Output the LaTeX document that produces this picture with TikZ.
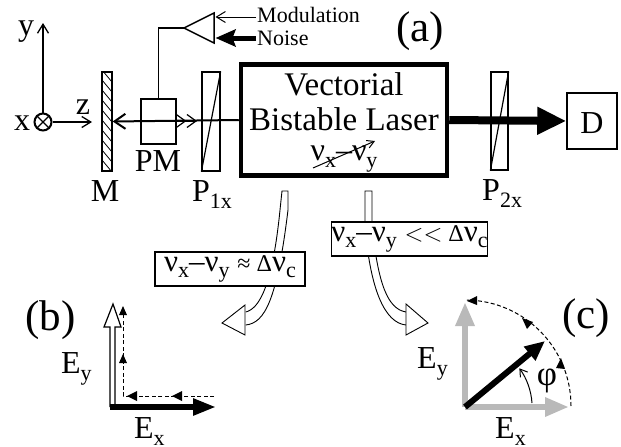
\documentclass[tikz,border=0pt]{standalone}
\usepackage{fontspec}
\setmainfont{Liberation Serif}
\usetikzlibrary{arrows.meta}
\definecolor{vecgrey}{RGB}{185,185,185}
\newcommand{\lowsub}[1]{\raisebox{-0.22em}{\fontsize{22}{22}\selectfont #1}}
\tikzset{
  optbox/.style={draw, line width=1.3pt, inner sep=0pt},
  lbl/.style={font=\fontsize{32}{32}\selectfont, inner sep=0pt, anchor=base},
  panel/.style={font=\fontsize{43}{43}\selectfont, inner sep=0pt, anchor=base west},
  small/.style={font=\fontsize{22}{22}\selectfont, inner sep=0pt, anchor=base west},
  condbox/.style={draw, fill=white, line width=1.2pt, inner sep=0pt, font=\fontsize{31}{31}\selectfont},
  hollow/.style={line width=0.9pt},
  dashline/.style={line width=1pt, dash pattern=on 4pt off 2.5pt}
}
\begin{document}
\begin{tikzpicture}[x=1pt, y=-1pt, line cap=butt]
  \useasboundingbox (0,0) rectangle (621,447);
  % axes
  \node[circle, draw, line width=2pt, minimum size=17pt, inner sep=0pt] (xaxis) at (43,122) {};
  \draw[line width=1.3pt] (xaxis.45) -- (xaxis.225) (xaxis.135) -- (xaxis.315);
  \coordinate (ytip) at (43,23);
  \coordinate (ztip) at (92,122);
  \draw[line width=1.3pt, -{Straight Barb[length=9pt,width=11pt]}] (xaxis.north) -- (ytip);
  \draw[line width=1.3pt, -{Straight Barb[length=9pt,width=11pt]}] (xaxis.east) -- (ztip);
  \node[lbl] (ylabel) at (26,35) {y};
  \node[lbl] (xlabel) at (22,130) {x};
  \node[lbl] (zlabel) at (83,114) {z};
  % optical elements
  \node[optbox, minimum width=10pt, minimum height=99pt] (mirror) at (107,121.5) {};
  \begin{scope}
    \clip (102,72) rectangle (112,171);
    \foreach \h in {60,70,...,170}
      \draw[line width=0.8pt] (102,\h) -- (112,\h+12);
  \end{scope}
  \node[optbox, minimum width=35pt, minimum height=45pt] (pm) at (158.5,121.5) {};
  \node[optbox, minimum width=18pt, minimum height=99pt] (pone) at (211,121.5) {};
  \draw[line width=1.2pt] (pone.north east) -- (pone.south west);
  \node[optbox, minimum width=17pt, minimum height=98pt] (ptwo) at (499.5,121) {};
  \draw[line width=1.2pt] (ptwo.north east) -- (ptwo.south west);
  \node[draw, line width=4.5pt, minimum width=206pt, minimum height=111pt, inner sep=0pt] (laser) at (344,120) {};
  \node[draw, line width=1.5pt, minimum width=50pt, minimum height=56pt, inner sep=0pt] (det) at (592,121) {};
  \node[lbl] (dlabel) at (592,133) {D};
  % beams
  \draw[line width=2pt, {Straight Barb[length=11pt,width=15pt]}-] (mirror.east) -- (laser.west);
  \coordinate (beamtip) at (197,121);
  \draw[line width=1.2pt, -{Straight Barb[length=9pt,width=13pt]Straight Barb[length=9pt,width=13pt]}] (175,121) -- (beamtip);
  \draw[line width=8pt, -{Triangle[length=29pt,width=26pt]}] (laser.east) -- (det.west);
  % amplifier
  \coordinate (amptip) at (184,28);
  \coordinate (amptop) at (214,13);
  \coordinate (ampbot) at (214,43);
  \draw[line width=1.5pt] (amptip) -- (amptop) -- (ampbot) -- cycle;
  \draw[line width=1.5pt] (pm.north) |- (amptip);
  \node[small] (modlabel) at (257,23) {Modulation};
  \node[small] (noiselabel) at (257,45) {Noise};
  \draw[line width=1pt, -{Straight Barb[length=9pt,width=11pt]}] (256,17) -- (215.5,17);
  \draw[line width=5pt, -{Stealth[length=20pt,width=17pt,inset=3pt]}] (256,38) -- (215.5,38);
  % laser text
  \node[lbl, font=\fontsize{33}{33}\selectfont] (vect) at (344,95) {Vectorial};
  \node[lbl, font=\fontsize{33}{33}\selectfont] (bist) at (344,130) {Bistable Laser};
  \node[lbl] (nudiff) at (344,160) {ν\lowsub{x}–ν\lowsub{y}};
  \coordinate (strikea) at (313,168);
  \coordinate (strikeb) at (375,141);
  \draw[line width=1pt, -{Straight Barb[length=7pt,width=8pt]}] (strikea) -- (strikeb);
  % labels
  \node[lbl] (pmlabel) at (158,171) {PM};
  \node[lbl] (mlabel) at (105,201) {M};
  \node[lbl, anchor=base west] (ponelabel) at (192,201) {P\lowsub{1x}};
  \node[lbl, anchor=base west] (ptwolabel) at (482,200) {P\lowsub{2x}};
  \node[panel] (panela) at (396,41) {(a)};
  \node[panel] (panelb) at (25,330) {(b)};
  \node[panel] (panelc) at (562,328) {(c)};
  % hollow arrows
  \draw[hollow] (245.7,325) .. controls (265,323) and (277,300) .. (288,210) -- (288,191) -- (282,191) -- (280,210) .. controls (272,290) and (258,309) .. (245.7,312);
  \draw[hollow, fill=white] (245,305) -- (222,323) -- (245,335) -- cycle;
  \draw[hollow] (406,312) .. controls (388,309) and (378,285) .. (372,225) -- (372,191) -- (365,191) -- (365,225) .. controls (370,290) and (385,323) .. (406,325);
  \draw[hollow, fill=white] (406,304) -- (428,323) -- (406,335) -- cycle;
  \node[condbox, minimum width=150pt, minimum height=34pt] (condb) at (230,269) {ν\lowsub{x}–ν\lowsub{y} {\fontsize{24}{24}\selectfont ≈ Δ}ν\lowsub{c}};
  \node[condbox, minimum width=155pt, minimum height=34pt] (condc) at (409.5,239) {ν\lowsub{x}–ν\lowsub{y} {\fontsize{24}{24}\selectfont $<<$ Δ}ν\lowsub{c}};
  % panel b
  \draw[line width=1.2pt, fill=white] (110,407) -- (110,327) -- (104,327) -- (113,304) -- (121,327) -- (115,327) -- (115,407);
  \coordinate (bxtip) at (216,407);
  \draw[line width=5.5pt, -{Triangle[length=23pt,width=16pt]}] (110,407) -- (bxtip);
  \draw[dashline] (214,396) -- (123,396) -- (123,306);
  \foreach \a/\b in {172/182,127/137} \fill (\a,396) -- (\b,391) -- (\b,401) -- cycle;
  \foreach \a in {306,354} \fill (123,\a) -- (119,\a+9) -- (127,\a+9) -- cycle;
  \node[lbl, anchor=base west] (beylabel) at (61,373) {E\lowsub{y}};
  \node[lbl, anchor=base west] (bexlabel) at (134,438) {E\lowsub{x}};
  % panel c
  \coordinate (corig) at (465,407);
  \coordinate (cytip) at (465,302);
  \coordinate (cxtip) at (569,407);
  \coordinate (cvtip) at (545,341);
  \draw[vecgrey, line width=6pt, -{Triangle[length=24pt,width=18pt]}] (corig) -- (cytip);
  \draw[vecgrey, line width=6pt, -{Triangle[length=24pt,width=18pt]}] (corig) -- (cxtip);
  \draw[line width=6pt, -{Triangle[length=20pt,width=17pt]}] (corig) -- (cvtip);
  \draw[dashline] (571,406) arc[start angle=0, end angle=-89, radius=106];
  \fill (467,301) -- (477,296) -- (477,305) -- cycle;
  \fill (522,318) -- (533,322) -- (527,329) -- cycle;
  \fill (561,358) -- (565,369) -- (556,368) -- cycle;
  \draw[line width=1pt, -{Straight Barb[length=7pt,width=9pt]}] (532,403) arc[start angle=-4, end angle=-36, radius=67];
  \node[lbl, font=\fontsize{35}{35}\selectfont] (philabel) at (547,385) {φ};
  \node[lbl, anchor=base west] (ceylabel) at (417,368) {E\lowsub{y}};
  \node[lbl, anchor=base west] (cexlabel) at (495,438) {E\lowsub{x}};
\end{tikzpicture}
\end{document}
